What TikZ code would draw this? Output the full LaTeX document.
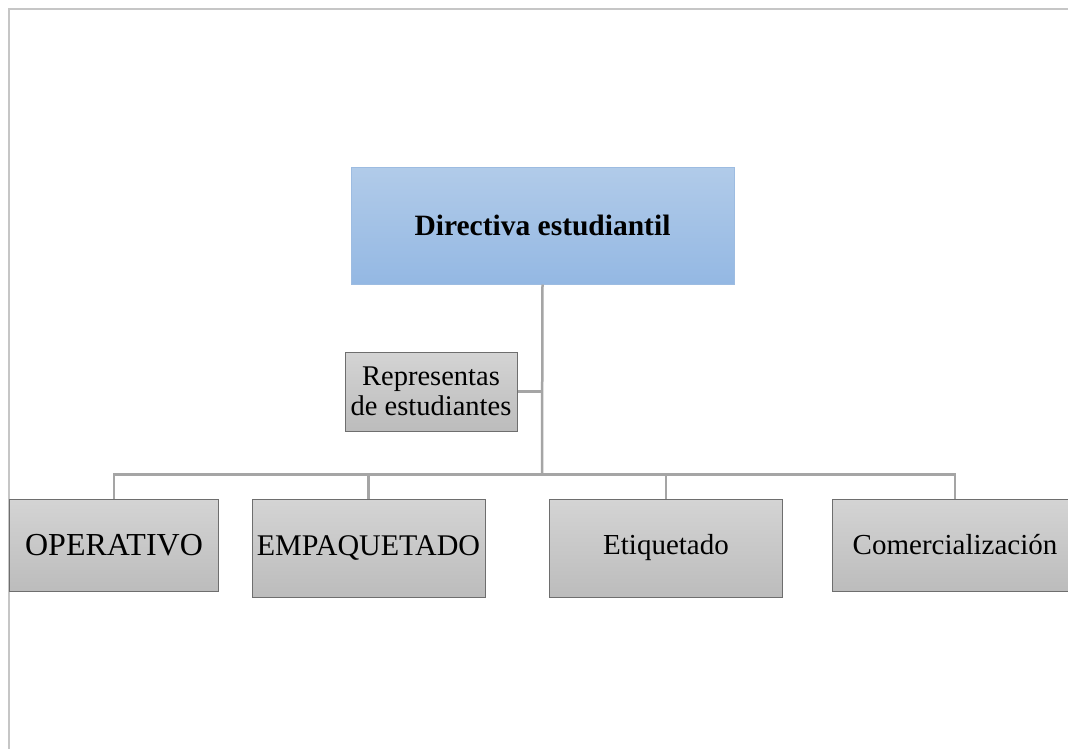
\documentclass[tikz,border=0pt]{standalone}
\usepackage{fontspec}
\setmainfont{Liberation Serif}
\definecolor{framec}{HTML}{C6C6C6}
\definecolor{linkc}{HTML}{A5A5A5}
\definecolor{bluetop}{HTML}{B1CBE9}
\definecolor{bluebot}{HTML}{94B8E3}
\definecolor{blueedge}{HTML}{9DBCE1}
\definecolor{graytop}{HTML}{D4D4D4}
\definecolor{graybot}{HTML}{BCBCBC}
\definecolor{grayedge}{HTML}{6E6E6E}
\begin{document}
\begin{tikzpicture}[x=1bp,y=-1bp,
  headbox/.style={draw=blueedge, line width=1bp, top color=bluetop, bottom color=bluebot,
    inner sep=0pt, font=\fontsize{29.5bp}{32bp}\selectfont\bfseries, align=center},
  unitbox/.style={draw=grayedge, line width=1bp, top color=graytop, bottom color=graybot,
    inner sep=0pt, font=\fontsize{29bp}{31bp}\selectfont, align=center},
  link/.style={draw=linkc, line width=2.5bp},
  frameline/.style={draw=framec, line width=2bp}]
\useasboundingbox (0,0) rectangle (1068,749);
\fill[white] (0,0) rectangle (1068,749);
\draw[frameline] (8.5,749) -- (8.5,9.5) -- (1068,9.5);

\node[headbox, minimum width=383bp, minimum height=117bp] (top) at (542.5,225.5) {Directiva estudiantil};
\node[unitbox, minimum width=172bp, minimum height=79bp, font=\fontsize{28.5bp}{30bp}\selectfont] (rep) at (431,391.5) {Representas\\de estudiantes};
\node[unitbox, minimum width=208bp, minimum height=92bp, font=\fontsize{32bp}{34bp}\selectfont] (op) at (114,545) {OPERATIVO};
\node[unitbox, minimum width=233bp, minimum height=98bp, font=\fontsize{30bp}{32bp}\selectfont] (emp) at (368.5,548) {EMPAQUETADO};
\node[unitbox, minimum width=233bp, minimum height=98bp] (eti) at (666,548) {Etiquetado};
\node[unitbox, minimum width=246bp, minimum height=92bp] (com) at (955,545) {Comercialización};

\coordinate (bus) at (542,474.5);
\draw[link] (top.south) -- (bus);
\draw[link] (rep.east) -- (rep.east -| bus);
\draw[link] (bus) -| (op.north);
\draw[link] (bus) -| (emp.north);
\draw[link] (bus) -| (eti.north);
\draw[link] (bus) -| (com.north);
\end{tikzpicture}
\end{document}
